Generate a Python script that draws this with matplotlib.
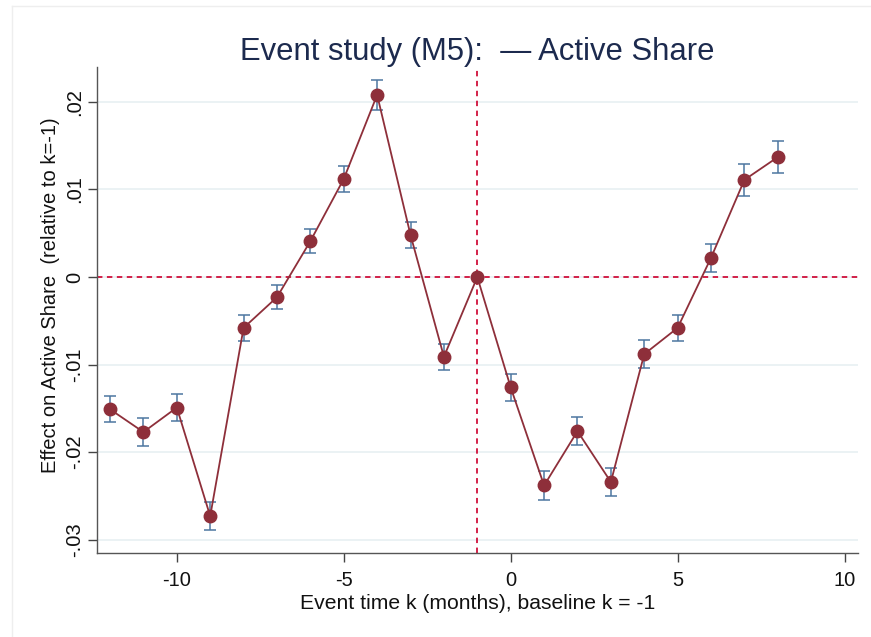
import matplotlib
matplotlib.use('Agg')
import matplotlib.pyplot as plt
from matplotlib.lines import Line2D

# event-time coefficients and half-width of the 95% interval
k = [-12, -11, -10, -9, -8, -7, -6, -5, -4, -3, -2, -1,
     0, 1, 2, 3, 4, 5, 6, 7, 8]
coef = [-0.0151, -0.0177, -0.0149, -0.0273, -0.0058, -0.0023, 0.0041,
        0.0112, 0.0208, 0.0048, -0.0091, 0.0, -0.0126, -0.0238,
        -0.0176, -0.0234, -0.0088, -0.0058, 0.0022, 0.0111, 0.0137]
ci_half = [0.0015, 0.0016, 0.0015, 0.0016, 0.0015, 0.0014, 0.0014,
           0.0015, 0.0017, 0.0015, 0.0015, 0.0, 0.0015, 0.0017,
           0.0016, 0.0016, 0.0016, 0.0015, 0.0016, 0.0018, 0.0018]

y_ticks = [-0.03, -0.02, -0.01, 0.0, 0.01, 0.02]
y_ticklabels = ['-.03', '-.02', '-.01', '0', '.01', '.02']
x_ticks = [-10, -5, 0, 5, 10]

LINE = '#8e2f3a'
CI = '#4d76a0'
REF = '#d0103a'
NAVY = '#1c2a4e'

plt.rcParams['font.family'] = ['Liberation Sans', 'DejaVu Sans']

fig = plt.figure(figsize=(8.71, 6.37), dpi=100)
# faint outer frame (top and left edges only)
fig.lines.append(Line2D([0.014, 1.0], [0.991, 0.991], transform=fig.transFigure,
                        color='#eeeeee', linewidth=1.0))
fig.lines.append(Line2D([0.014, 0.014], [0.0, 0.991], transform=fig.transFigure,
                        color='#eeeeee', linewidth=1.0))
ax = fig.add_axes([0.111, 0.132, 0.874, 0.763])

for yt in y_ticks:
    ax.axhline(yt, color='#e9f1f3', linewidth=1.3, zorder=0)

ax.axhline(0, color=REF, linestyle=(0, (3, 2.5)), linewidth=1.3, zorder=1)
ax.axvline(-1, color=REF, linestyle=(0, (3, 2.5)), linewidth=1.3, zorder=1)

ax.errorbar(k, coef, yerr=ci_half, fmt='none', ecolor=CI, elinewidth=1.1,
            capsize=4, capthick=1.1, zorder=2)
ax.plot(k, coef, color=LINE, linewidth=1.3, marker='o', markersize=9,
        markerfacecolor=LINE, markeredgecolor=LINE, zorder=3)

ax.set_xlim(-12.4, 10.4)
ax.set_ylim(-0.0315, 0.024)
ax.set_xticks(x_ticks)
ax.set_xticklabels([str(v) for v in x_ticks])
ax.set_yticks(y_ticks)
ax.set_yticklabels(y_ticklabels, rotation=90, va='center')

for side in ['top', 'right']:
    ax.spines[side].set_visible(False)
for side in ['left', 'bottom']:
    ax.spines[side].set_color('#555555')
    ax.spines[side].set_linewidth(1.0)
ax.tick_params(axis='both', direction='out', length=6.3, width=1.0, color='#444444',
               labelsize=14.5, labelcolor='#111111')
ax.tick_params(axis='y', pad=3)
ax.tick_params(axis='x', pad=7)

ax.set_xlabel('Event time k (months), baseline k = -1', fontsize=15.2,
              color='#111111', labelpad=2.5)
ax.set_ylabel('Effect on Active Share  (relative to k=-1)', fontsize=14.5,
              color='#111111')
ax.yaxis.set_label_coords(-0.048, 0.531)
ax.set_title('Event study (M5):  \u2014 Active Share', fontsize=22.3,
             color=NAVY, pad=5)

fig.savefig('out.png', dpi=100)
